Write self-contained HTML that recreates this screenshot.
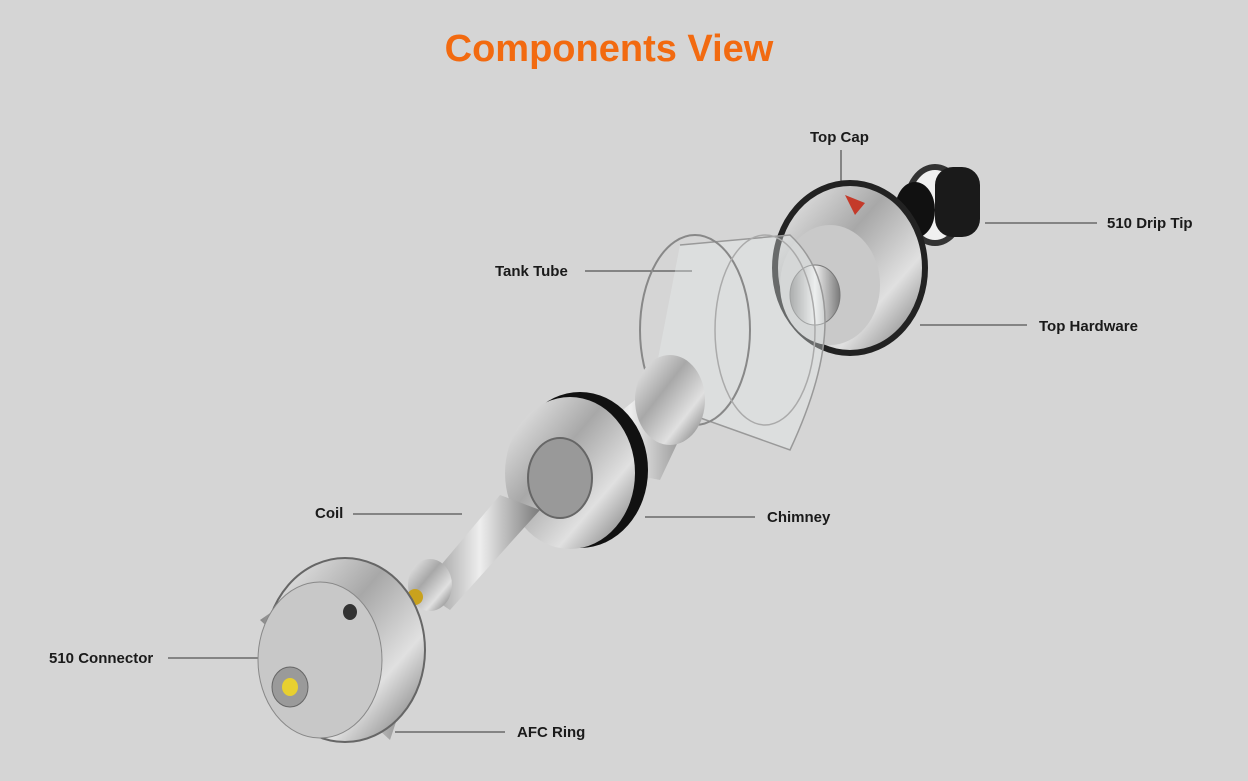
<!DOCTYPE html>
<html><head><meta charset="utf-8"><style>
html,body{margin:0;padding:0;background:#d5d5d5;}
body{width:1248px;height:781px;position:relative;overflow:hidden;font-family:"Liberation Sans",Arial,sans-serif;}
.t{position:absolute;font-size:15px;color:#1a1a1a;font-weight:bold;white-space:nowrap;}
h1{position:absolute;left:0;width:1218px;text-align:center;top:28px;margin:0;font-size:38px;color:#f26a10;font-weight:bold;}
</style></head><body>
<h1>Components View</h1>
<svg width="1248" height="781" style="position:absolute;left:0;top:0">
<defs>
<linearGradient id="m" x1="0" y1="0" x2="1" y2="1">
<stop offset="0" stop-color="#f2f2f2"/><stop offset=".4" stop-color="#a8a8a8"/><stop offset=".7" stop-color="#e0e0e0"/><stop offset="1" stop-color="#6a6a6a"/></linearGradient>
<linearGradient id="m2" x1="0" y1="0" x2="1" y2="0">
<stop offset="0" stop-color="#8a8a8a"/><stop offset=".5" stop-color="#eeeeee"/><stop offset="1" stop-color="#7a7a7a"/></linearGradient>
</defs>
<g stroke="#333" stroke-width="1">
<line x1="841" y1="150" x2="841" y2="186"/>
<line x1="985" y1="223" x2="1097" y2="223"/>
<line x1="585" y1="271" x2="692" y2="271"/>
<line x1="920" y1="325" x2="1027" y2="325"/>
<line x1="353" y1="514" x2="462" y2="514"/>
<line x1="645" y1="517" x2="755" y2="517"/>
<line x1="168" y1="658" x2="280" y2="658"/>
<line x1="395" y1="732" x2="505" y2="732"/>
</g>
<!-- drip tip -->
<ellipse cx="935" cy="205" rx="28" ry="38" fill="#f0f0f0" stroke="#333" stroke-width="6"/>
<rect x="935" y="167" width="45" height="70" rx="18" fill="#1a1a1a"/>
<ellipse cx="915" cy="210" rx="20" ry="28" fill="#111"/>
<!-- top hardware -->
<ellipse cx="850" cy="268" rx="75" ry="85" fill="url(#m)" stroke="#222" stroke-width="6"/>
<ellipse cx="830" cy="285" rx="50" ry="60" fill="#c9c9c9"/>
<ellipse cx="815" cy="295" rx="25" ry="30" fill="url(#m2)" stroke="#777"/>
<path d="M845 195 l20 8 l-10 12z" fill="#c43a2a"/>
<!-- tank tube -->
<path d="M680 245 L790 235 Q860 300 790 450 L650 400" fill="rgba(235,240,240,.35)" stroke="#999" stroke-width="1.5"/>
<ellipse cx="695" cy="330" rx="55" ry="95" fill="none" stroke="#888" stroke-width="2"/>
<ellipse cx="765" cy="330" rx="50" ry="95" fill="none" stroke="#aaa" stroke-width="1.5"/>
<!-- chimney -->
<path d="M560 460 L660 380 L700 395 L660 480z" fill="url(#m2)"/>
<ellipse cx="670" cy="400" rx="35" ry="45" fill="url(#m)"/>
<ellipse cx="580" cy="470" rx="68" ry="78" fill="#111"/>
<ellipse cx="570" cy="473" rx="65" ry="76" fill="url(#m)"/>
<ellipse cx="560" cy="478" rx="32" ry="40" fill="#999" stroke="#666" stroke-width="2"/>
<!-- coil -->
<path d="M420 590 L500 495 L540 510 L450 610z" fill="url(#m2)"/>
<ellipse cx="430" cy="585" rx="22" ry="26" fill="url(#m)"/>
<ellipse cx="415" cy="597" rx="8" ry="8" fill="#c9a21d"/>
<!-- base -->
<path d="M260 620 L340 565 L420 650 L390 740z" fill="url(#m2)"/>
<ellipse cx="345" cy="650" rx="80" ry="92" fill="url(#m)" stroke="#666" stroke-width="2"/>
<ellipse cx="320" cy="660" rx="62" ry="78" fill="#c8c8c8" stroke="#888"/>
<ellipse cx="290" cy="687" rx="18" ry="20" fill="#9a9a9a" stroke="#666"/>
<ellipse cx="290" cy="687" rx="8" ry="9" fill="#e8d030"/>
<ellipse cx="350" cy="612" rx="7" ry="8" fill="#333"/>
</svg>
<div class="t" style="left:810px;top:129px">Top Cap</div>
<div class="t" style="left:1107px;top:215px">510 Drip Tip</div>
<div class="t" style="left:495px;top:263px">Tank Tube</div>
<div class="t" style="left:1039px;top:318px">Top Hardware</div>
<div class="t" style="left:315px;top:505px">Coil</div>
<div class="t" style="left:767px;top:509px">Chimney</div>
<div class="t" style="left:49px;top:650px">510 Connector</div>
<div class="t" style="left:517px;top:724px">AFC Ring</div>
</body></html>
